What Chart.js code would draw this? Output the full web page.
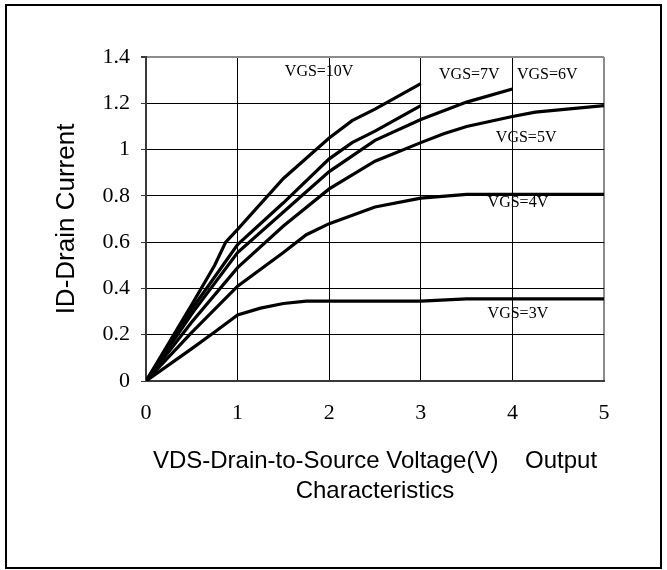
<!DOCTYPE html>
<html>
<head>
<meta charset="utf-8">
<script src="https://cdn.jsdelivr.net/npm/chart.js@4.4.0/dist/chart.umd.min.js"></script>
<style>
  html, body { margin: 0; padding: 0; background: #fff; }
  canvas { display: block; }
</style>
</head>
<body>
<canvas id="ivChart" width="667" height="570"></canvas>
<script>
  'use strict';

  // output characteristics, one pair of arrays per gate voltage
  var vds10 = [0, 0.5, 0.75, 0.87, 1, 1.5, 2, 2.25, 2.5, 2.75, 3];
  var id10  = [0, 0.33, 0.5, 0.6, 0.655, 0.875, 1.05, 1.125, 1.175, 1.23, 1.285];

  var vds7 = [0, 0.5, 1, 1.5, 2, 2.25, 2.5, 2.75, 3];
  var id7  = [0, 0.31, 0.59, 0.77, 0.96, 1.03, 1.08, 1.135, 1.19];

  var vds6 = [0, 0.5, 1, 1.5, 2, 2.5, 3, 3.5, 4];
  var id6  = [0, 0.29, 0.555, 0.73, 0.905, 1.04, 1.13, 1.205, 1.262];

  var vds5 = [0, 0.5, 1, 1.5, 2, 2.5, 3, 3.25, 3.5, 4, 4.25, 5];
  var id5  = [0, 0.255, 0.49, 0.67, 0.83, 0.95, 1.03, 1.068, 1.1, 1.143, 1.162, 1.19];

  var vds4 = [0, 0.5, 1, 1.5, 1.75, 2, 2.5, 3, 3.5, 5];
  var id4  = [0, 0.21, 0.41, 0.555, 0.632, 0.68, 0.752, 0.79, 0.806, 0.806];

  var vds3 = [0, 0.5, 0.75, 1, 1.25, 1.5, 1.75, 3, 3.5, 5];
  var id3  = [0, 0.14, 0.212, 0.285, 0.315, 0.335, 0.345, 0.345, 0.355, 0.355];

  var curveNames = ['VGS=10V', 'VGS=7V', 'VGS=6V', 'VGS=5V', 'VGS=4V', 'VGS=3V'];
  var xTicks = ['0', '1', '2', '3', '4', '5'];
  var yTicks = ['0', '0.2', '0.4', '0.6', '0.8', '1', '1.2', '1.4'];

  // where the VGS captions sit, in axis units
  var captionX = [1.89, 3.53, 4.38, 4.15, 4.06, 4.06];
  var captionY = [1.335, 1.322, 1.322, 1.05, 0.771, 0.289];

  var serif = "'Liberation Serif', 'Times New Roman', serif";
  var sans = "'Liberation Sans', Arial, sans-serif";

  function pts(xs, ys) {
    var out = [];
    for (var i = 0; i < xs.length; i++) {
      out.push({ x: xs[i], y: ys[i] });
    }
    return out;
  }

  var allX = [vds10, vds7, vds6, vds5, vds4, vds3];
  var allY = [id10, id7, id6, id5, id4, id3];
  var datasets = [];
  for (var i = 0; i < allX.length; i++) {
    datasets.push({
      label: curveNames[i],
      data: pts(allX[i], allY[i]),
      borderColor: '#000',
      borderWidth: 3.2,
      pointRadius: 0,
      tension: 0,
      fill: false
    });
  }

  var pagePlugin = {
    id: 'page',
    beforeDraw: function (chart) {
      var c = chart.ctx;
      c.save();
      c.fillStyle = '#fff';
      c.fillRect(0, 0, chart.width, chart.height);
      c.restore();
    },
    afterDatasetsDraw: function (chart) {
      var c = chart.ctx;
      var xs = chart.scales.x, ys = chart.scales.y;
      c.save();
      c.fillStyle = '#000';
      c.font = '16px ' + serif;
      c.textAlign = 'center';
      c.textBaseline = 'middle';
      for (var k = 0; k < curveNames.length; k++) {
        c.fillText(curveNames[k], xs.getPixelForValue(captionX[k]), ys.getPixelForValue(captionY[k]));
      }
      c.restore();
    },
    afterDraw: function (chart) {
      var c = chart.ctx;
      c.save();
      c.strokeStyle = '#000';
      c.lineWidth = 2;
      c.strokeRect(6, 5, 655, 563);
      c.restore();
    }
  };

  new Chart(document.getElementById('ivChart'), {
    type: 'line',
    data: { datasets: datasets },
    plugins: [pagePlugin],
    options: {
      responsive: false,
      animation: false,
      layout: { padding: { left: 0, right: 63, top: 57, bottom: 0 } },
      plugins: {
        legend: { display: false },
        tooltip: { enabled: false }
      },
      scales: {
        x: {
          type: 'linear',
          min: 0,
          max: 5,
          afterFit: function (s) { s.height = 189; },
          ticks: {
            stepSize: 1,
            padding: 19,
            color: '#000',
            font: { family: serif, size: 22 },
            callback: function (v) { return xTicks[Math.round(v)]; }
          },
          grid: {
            drawTicks: false,
            color: function (ctx) { return ctx.tick && ctx.tick.value === 5 ? '#8c8c8c' : '#000'; },
            lineWidth: function (ctx) { return ctx.tick && ctx.tick.value === 5 ? 2 : 1; }
          },
          border: { color: '#3a3a3a', width: 2 },
          title: {
            display: true,
            text: ['VDS-Drain-to-Source Voltage(V)    Output', 'Characteristics'],
            color: '#000',
            font: { family: sans, size: 24, lineHeight: 1.25 },
            padding: { top: 0, bottom: 64 }
          }
        },
        y: {
          min: 0,
          max: 1.4,
          afterFit: function (s) { s.width = 146; },
          ticks: {
            stepSize: 0.2,
            padding: 11,
            color: '#000',
            font: { family: serif, size: 22 },
            callback: function (v) { return yTicks[Math.round(v / 0.2)]; }
          },
          grid: {
            tickLength: 5,
            tickColor: '#3a3a3a',
            color: function (ctx) {
              return ctx.tick && Math.abs(ctx.tick.value - 1.4) < 1e-6 ? '#8c8c8c' : '#000';
            },
            lineWidth: function (ctx) {
              return ctx.tick && Math.abs(ctx.tick.value - 1.4) < 1e-6 ? 2 : 1;
            }
          },
          border: { color: '#3a3a3a', width: 2 },
          title: {
            display: true,
            text: 'ID-Drain Current',
            color: '#000',
            font: { family: sans, size: 26, lineHeight: 1.2 },
            padding: { top: 51, bottom: 0 }
          }
        }
      }
    }
  });
</script>
</body>
</html>
